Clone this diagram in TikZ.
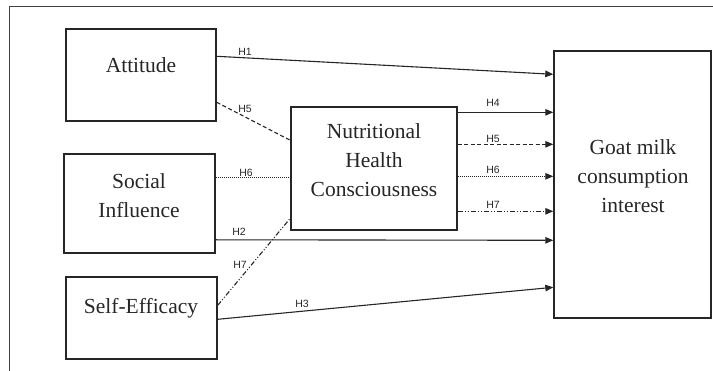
\documentclass[tikz,border=0pt]{standalone}
\usepackage{fontspec}
\setmainfont{Liberation Serif}
\newfontfamily\labfont{Liberation Sans}
\usetikzlibrary{arrows.meta}
\begin{document}
\begin{tikzpicture}[x=1pt,y=-1pt,
  box/.style={draw=black!85, line width=1.4pt, inner sep=0pt, anchor=center},
  txt/.style={font=\fontsize{21.5}{29}\selectfont, align=center, inner sep=0pt, text=black!85},
  lab/.style={font=\labfont\fontsize{10.5}{11}\selectfont, inner sep=0pt, text=black!85},
  ln/.style={draw=black!85, line width=1.1pt},
  arr/.style={ln, -{Triangle[length=8pt,width=6.5pt]}},
  dsh/.style={dash pattern=on 4pt off 2.5pt},
  dtt/.style={dash pattern=on 1.2pt off 0.8pt},
  ddt/.style={dash pattern=on 5pt off 2pt on 1pt off 2pt on 1pt off 2pt}]
\useasboundingbox (0,0) rectangle (713,371);
\draw[draw=black!75, line width=1pt] (9,371) -- (9,7) -- (713,7);

% boxes
\node[box, minimum width=150pt, minimum height=92pt] (att) at (141,75) {};
\node[box, minimum width=151pt, minimum height=99pt] (soc) at (139.5,203.5) {};
\node[box, minimum width=151pt, minimum height=82pt] (self) at (141.5,318) {};
\node[box, minimum width=166pt, minimum height=123pt] (nhc) at (374,168.5) {};
\node[box, minimum width=157pt, minimum height=267pt] (goat) at (632.5,184.5) {};

% texts
\node[txt] (attT) at (141,65) {Attitude};
\node[txt] (socT) at (139,196) {Social\\Influence};
\node[txt] (selfT) at (141,308) {Self-Efficacy};
\node[txt] (nhcT) at (374,160) {Nutritional\\Health\\Consciousness};
\node[txt] (goatT) at (633,176) {Goat milk\\consumption\\interest};

% connectors
\draw[arr] ([yshift=-28pt]att.north east) -- ([yshift=-24pt]goat.north west);
\draw[ln,dsh] ([yshift=-74pt]att.north east) -- ([yshift=-34pt]nhc.north west);
\draw[ln,dtt] ([yshift=-24pt]soc.north east) -- ([yshift=-71pt]nhc.north west);
\draw[arr] ([yshift=-86.5pt]soc.north east) -- ([yshift=-190pt]goat.north west);
\draw[ln,ddt] ([yshift=-29pt]self.north east) -- ([yshift=-112pt]nhc.north west);
\draw[arr] ([yshift=-43pt]self.north east) -- ([yshift=-237pt]goat.north west);
\draw[arr] ([yshift=-6pt]nhc.north east) -- ([yshift=-62pt]goat.north west);
\draw[arr,dsh] ([yshift=-38pt]nhc.north east) -- ([yshift=-94pt]goat.north west);
\draw[arr,dtt] ([yshift=-70pt]nhc.north east) -- ([yshift=-126pt]goat.north west);
\draw[arr,ddt] ([yshift=-105pt]nhc.north east) -- ([yshift=-161pt]goat.north west);

% labels
\node[lab] (l1) at (245,52) {H1};
\node[lab] (l5a) at (245,109) {H5};
\node[lab] (l6a) at (246,173) {H6};
\node[lab] (l2) at (239,232) {H2};
\node[lab] (l7a) at (240,265) {H7};
\node[lab] (l3) at (302,304) {H3};
\node[lab] (l4) at (493,103) {H4};
\node[lab] (l5b) at (493,139) {H5};
\node[lab] (l6b) at (493,170) {H6};
\node[lab] (l7b) at (493,205) {H7};
\end{tikzpicture}
\end{document}
